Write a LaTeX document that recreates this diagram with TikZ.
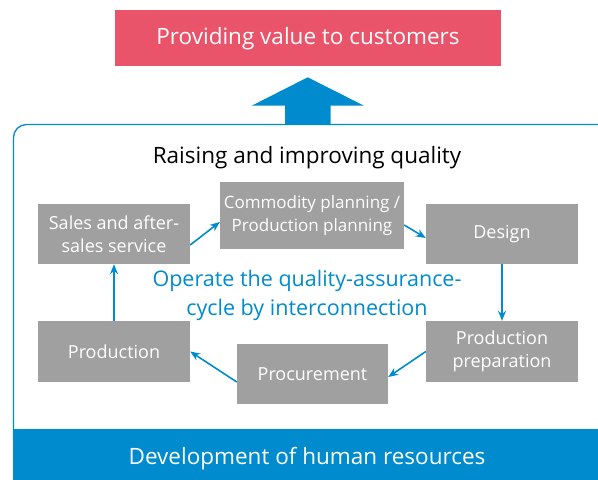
\documentclass[tikz,border=0pt]{standalone}
\usepackage{fontspec}
\setmainfont{Open Sans}
\usepackage{tikz}
\usetikzlibrary{positioning,arrows.meta}

\definecolor{qpink}{HTML}{E9546B}
\definecolor{qblue}{HTML}{008BCE}
\definecolor{qgray}{HTML}{A0A0A0}

\tikzset{
  stage/.style={fill=qgray, text=white, align=center, inner sep=1pt,
    minimum width=152pt, minimum height=60pt, font=\fontsize{18}{23}\selectfont},
  flow/.style={->, >={Stealth[length=10pt,width=8pt]}, draw=qblue, line width=1.6pt}
}

\begin{document}
\begin{tikzpicture}[x=1pt, y=-1pt]
  \useasboundingbox (0,0) rectangle (598,480);

  % frame and base
  \draw[qblue, line width=1.3pt, rounded corners=13pt] (13.5,440) -- (13.5,124.5) -- (612,124.5) -- (612,440);
  \fill[qblue] (13,429) rectangle (598,481);
  \node (people) at (307,459) [text=white, font=\fontsize{22.5}{27}\selectfont] {Development of human resources};

  % goal
  \node (value) at (308,38) [fill=qpink, text=white, minimum width=386pt, minimum height=56pt, font=\fontsize{22.5}{27}\selectfont, text depth=4pt] {Providing value to customers};
  \fill[qblue] (285,124.5) -- (285,105.7) -- (251.7,105.7) -- (307.7,77.3) -- (364,105.7) -- (330.7,105.7) -- (330.7,124.5) -- cycle;

  \node (title) at (307,158) [font=\fontsize{22.5}{27}\selectfont] {Raising and improving quality};

  % the cycle
  \node (sales) at (114,234) [stage] {Sales and after-\\sales service};
  \node (plan) at (312,215.5) [stage, minimum width=184pt, minimum height=67pt, font=\fontsize{17}{23}\selectfont] {Commodity planning /\\Production planning};
  \node (design) at (502,234) [stage] {Design};
  \node (prep) at (502,351.5) [stage, minimum height=61pt] {Production\\preparation};
  \node (procure) at (312.5,374) [stage, minimum width=151pt] {Procurement};
  \node (prod) at (114,351.5) [stage, minimum height=61pt] {Production};

  \node (cycle) at (307,295.5) [text=qblue, align=center, font=\fontsize{21.5}{28.5}\selectfont] {Operate the quality-assurance-\\cycle by interconnection};

  \draw[flow] ([yshift=-11pt]sales.east) -- ([yshift=-6.5pt]plan.west);
  \draw[flow] ([yshift=-9.5pt]plan.east) -- ([yshift=-4pt]design.west);
  \draw[flow] (design.south) -- (prep.north);
  \draw[flow] (prep.west) -- ([yshift=-3pt]procure.east);
  \draw[flow] ([yshift=-8pt]procure.west) -- (prod.east);
  \draw[flow] (prod.north) -- (sales.south);
\end{tikzpicture}
\end{document}
